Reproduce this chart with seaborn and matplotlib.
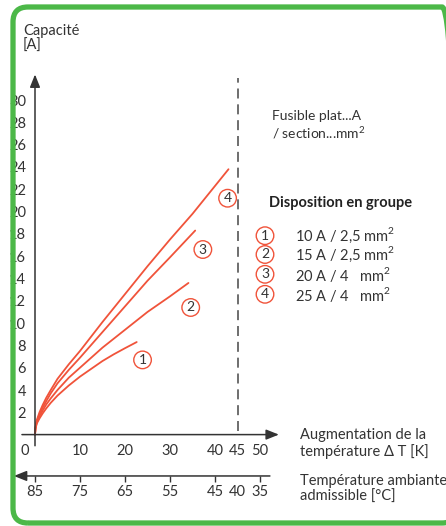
import matplotlib
matplotlib.use("Agg")
import matplotlib.pyplot as plt
import seaborn as sns
import pandas as pd
from matplotlib.patches import FancyBboxPatch

# Capacité [A] en fonction de l'augmentation de température ΔT [K]
curve_ids = ['1', '2', '3', '4']
curve_labels = ['10 A / 2,5 mm$^2$', '15 A / 2,5 mm$^2$', '20 A / 4   mm$^2$', '25 A / 4   mm$^2$']

dt_1 = [0, 0.1, 0.4, 1, 1.7, 2.5, 3.5, 5, 7.5, 10, 12.5, 15, 17.5, 20, 22.6]
amp_1 = [0, 0.5, 1.0, 1.45, 1.9, 2.35, 2.85, 3.5, 4.4, 5.2, 5.9, 6.6, 7.2, 7.75, 8.3]

dt_2 = [0, 0.1, 0.4, 1, 1.7, 2.5, 3.5, 5, 7.5, 10, 12.5, 15, 20, 25, 30, 34.1]
amp_2 = [0, 0.55, 1.1, 1.65, 2.15, 2.7, 3.25, 4.0, 5.1, 6.0, 6.9, 7.8, 9.4, 11.0, 12.4, 13.6]

dt_3 = [0, 0.1, 0.4, 1, 1.7, 2.5, 3.5, 5, 7.5, 10, 12.5, 15, 20, 25, 30, 35.6]
amp_3 = [0, 0.6, 1.2, 1.8, 2.4, 3.0, 3.7, 4.6, 5.8, 6.9, 8.05, 9.2, 11.5, 13.8, 15.9, 18.3]

dt_4 = [0, 0.1, 0.4, 1, 1.7, 2.5, 3.5, 5, 7.5, 10, 12.5, 15, 20, 25, 30, 35, 40, 43]
amp_4 = [0, 0.65, 1.3, 2.0, 2.65, 3.3, 4.0, 5.0, 6.3, 7.5, 8.8, 10.1, 12.6, 15.1, 17.5, 19.8, 22.3, 23.8]

# position des repères cerclés sur le graphique
mark_x = [23.9, 34.6, 37.3, 42.8]
mark_y = [6.7, 11.4, 16.6, 21.2]

x_ticks = [10, 20, 30, 40, 50]
y_ticks = list(range(2, 31, 2))
amb_ticks = [85, 75, 65, 55, 45, 35]

RED = '#f0533a'
INK = '#333333'
GREEN = '#4cb848'

sns.set_style('white')
plt.rcParams['font.family'] = ['Lato', 'DejaVu Sans']
plt.rcParams['mathtext.fontset'] = 'custom'
plt.rcParams['mathtext.rm'] = 'Lato'

frames = []
for cid, xs, ys in zip(curve_ids, [dt_1, dt_2, dt_3, dt_4], [amp_1, amp_2, amp_3, amp_4]):
    frames.append(pd.DataFrame({'dT': xs, 'I': ys, 'curve': cid}))
df = pd.concat(frames, ignore_index=True)

W, H = 446, 526
fig = plt.figure(figsize=(W / 100, H / 100), dpi=100)
xl = (-3, 55)
yl = (-1, 32.5)
# axes placé en pixels : x=0 -> 35 px, 4.5 px / K ; y=0 -> 434.6 px, 11.15 px / A
x0px = 35 + xl[0] * 4.5
x1px = 35 + xl[1] * 4.5
ybot = 434.6 - yl[0] * 11.15
ytop = 434.6 - yl[1] * 11.15
ax = fig.add_axes([x0px / W, 1 - ybot / H, (x1px - x0px) / W, (ybot - ytop) / H])
ax.set_xlim(*xl)
ax.set_ylim(*yl)

sns.lineplot(data=df, x='dT', y='I', hue='curve', palette=[RED] * 4,
             estimator=None, sort=False, legend=False, lw=1.3, ax=ax)

# axes avec flèches
for s in ['top', 'right']:
    ax.spines[s].set_visible(False)
ax.spines['left'].set_position(('data', 0))
ax.spines['bottom'].set_position(('data', 0))
ax.spines['left'].set_color('none')
ax.spines['bottom'].set_color('none')
arr = dict(arrowstyle='-|>,head_length=0.55,head_width=0.22', color=INK, lw=1.1,
           mutation_scale=14, shrinkA=0, shrinkB=0)
ax.annotate('', xy=(0, 32.3), xytext=(0, -1), arrowprops=arr, annotation_clip=False)
ax.annotate('', xy=(54.2, 0), xytext=(-2.9, 0), arrowprops=arr, annotation_clip=False)

ax.set_xticks(x_ticks)
ax.set_xticks([45], labels=['45'], minor=True)
ax.set_yticks(y_ticks)
ax.tick_params(axis='both', which='major', direction='out', length=4, width=1,
               color=INK, labelcolor=INK, labelsize=10.5, pad=2.5)
ax.tick_params(axis='x', which='minor', length=0, labelcolor=INK, labelsize=10.5, pad=6.5)
ax.set_xlabel('')
ax.set_ylabel('')
ax.text(-2.2, -0.82, '0', ha='center', va='top', fontsize=10.5, color=INK)
ax.vlines(45, 0.3, 32.0, colors='#555555', lw=1.2, linestyles=(0, (6, 3.5)))

# échelle de température ambiante
y2 = -3.71
loc = (y2 - yl[0]) / (yl[1] - yl[0])
sec = ax.secondary_xaxis(loc, functions=(lambda v: 85 - v, lambda v: 85 - v))
sec.set_xticks(amb_ticks)
sec.set_xticks([40], labels=['40'], minor=True)
sec.spines['bottom'].set_color('none')
sec.tick_params(axis='x', which='major', direction='out', length=4, width=1,
                color=INK, labelcolor=INK, labelsize=10.5, pad=2.5)
sec.tick_params(axis='x', which='minor', length=0, labelcolor=INK, labelsize=10.5, pad=6.5)
ax.annotate('', xy=(-4.7, y2), xytext=(52.2, y2), arrowprops=arr, annotation_clip=False)

# repères cerclés
circ = dict(boxstyle='circle,pad=0.2', fc='white', ec=RED, lw=1.0)
for cid, mx, my in zip(curve_ids, mark_x, mark_y):
    ax.text(mx, my, cid, ha='center', va='center', fontsize=10, color=INK, bbox=circ)

# textes
fig.text(23 / W, 1 - 24 / H, 'Capacité\n[A]', ha='left', va='top', fontsize=10.5,
         color=INK, linespacing=1.1)
fig.text(272 / W, 1 - 110 / H, 'Fusible plat...A\n/ section...mm$^2$', ha='left', va='top',
         fontsize=10, color=INK, linespacing=1.2)
fig.text(269 / W, 1 - 196 / H, 'Disposition en groupe', ha='left', va='top',
         fontsize=10.5, fontweight='bold', color='#222222')
leg_y = [235.7, 254.5, 274.3, 294.3]
for cid, lab, yy in zip(curve_ids, curve_labels, leg_y):
    fig.text(265 / W, 1 - yy / H, cid, ha='center', va='center', fontsize=10,
             color=INK, bbox=circ)
    fig.text(295 / W, 1 - yy / H, lab, ha='left', va='center', fontsize=10.5, color=INK)
fig.text(300 / W, 1 - 428 / H, 'Augmentation de la\ntempérature Δ T [K]', ha='left',
         va='top', fontsize=10.5, color=INK, linespacing=1.15)
fig.text(300 / W, 1 - 474 / H, 'Température ambiante\nadmissible [°C]', ha='left',
         va='top', fontsize=10.5, color=INK, linespacing=1.2)

# cadre vert arrondi (bord droit juste hors image), en pixels
frame = FancyBboxPatch((13, 3), 444, 516, boxstyle='round,pad=0,rounding_size=15',
                       transform=None, fc='none', ec=GREEN, lw=3.8, zorder=10)
fig.add_artist(frame)

fig.savefig('out.png', dpi=100)
